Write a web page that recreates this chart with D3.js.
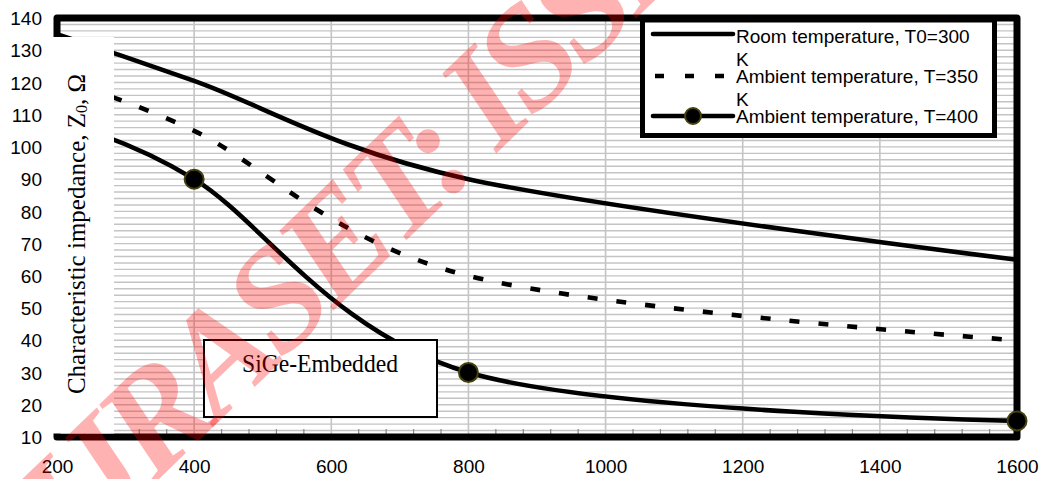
<!DOCTYPE html>
<html>
<head>
<meta charset="utf-8">
<script src="https://cdn.jsdelivr.net/npm/d3@7"></script>
<style>
  html, body { margin: 0; padding: 0; background: #fff; }
  svg { display: block; }
</style>
</head>
<body>
<svg id="chart" width="1042" height="479"></svg>
<script>
// Frequency points (MHz) and characteristic impedance (ohm) for each temperature
const freq = [200, 400, 800, 1600];
const zRoom300 = [135, 120.5, 90, 65];
const zAmb350 = [121, 105, 60, 40];
const zAmb400 = [108, 90, 30, 15];

const seriesNames = [
  ["Room temperature, T0=300", "K"],
  ["Ambient temperature, T=350", "K"],
  ["Ambient temperature, T=400", "K"]
];

const xTickValues = [200, 400, 600, 800, 1000, 1200, 1400, 1600];
const yTickValues = [10, 20, 30, 40, 50, 60, 70, 80, 90, 100, 110, 120, 130, 140];

const svg = d3.select("#chart");

const x = d3.scaleLinear().domain([200, 1600]).range([57, 1017]);
const y = d3.scaleLinear().domain([10, 140]).range([437, 18]);

const gridColor = "#c4c4c4";

// horizontal grid every 2 units
const gGrid = svg.append("g");
gGrid.selectAll("line.h")
  .data(d3.range(12, 140, 2))
  .join("line")
  .attr("x1", x(200)).attr("x2", x(1600))
  .attr("y1", d => y(d)).attr("y2", d => y(d))
  .attr("stroke", gridColor).attr("stroke-width", 1.4);

// vertical grid at major x ticks
gGrid.selectAll("line.v")
  .data(xTickValues.slice(1, -1))
  .join("line")
  .attr("x1", d => x(d)).attr("x2", d => x(d))
  .attr("y1", y(140)).attr("y2", y(10))
  .attr("stroke", gridColor).attr("stroke-width", 1.6);

// minor ticks along the bottom axis
gGrid.selectAll("line.mt")
  .data(d3.range(240, 1600, 40).filter(v => v % 200 !== 0))
  .join("line")
  .attr("x1", d => x(d)).attr("x2", d => x(d))
  .attr("y1", y(10) - 8).attr("y2", y(10))
  .attr("stroke", "#888").attr("stroke-width", 1.2);

// plot frame
svg.append("rect")
  .attr("x", x(200)).attr("y", y(140))
  .attr("width", x(1600) - x(200)).attr("height", y(10) - y(140))
  .attr("fill", "none").attr("stroke", "#000").attr("stroke-width", 7)
  .attr("stroke-linejoin", "round");

// axis tick labels
const yAxis = d3.axisLeft(y).tickValues(yTickValues).tickSize(0).tickPadding(0);
const gy = svg.append("g").attr("transform", "translate(42,0)").call(yAxis);
gy.select(".domain").remove();
gy.selectAll("text")
  .attr("font-family", "Liberation Sans, Arial, sans-serif")
  .attr("font-size", 19).attr("fill", "#000").attr("dy", "0.35em");

const xAxis = d3.axisBottom(x).tickValues(xTickValues).tickSize(0).tickPadding(0).tickFormat(d3.format("d"));
const gx = svg.append("g").attr("transform", "translate(0,459)").call(xAxis);
gx.select(".domain").remove();
gx.selectAll("text")
  .attr("font-family", "Liberation Sans, Arial, sans-serif")
  .attr("font-size", 19).attr("fill", "#000").attr("dy", "0.73em");

// series curves
const line = d3.line()
  .x((d, i) => x(freq[i]))
  .y(d => y(d))
  .curve(d3.curveCardinal.tension(0));

const gLines = svg.append("g").attr("fill", "none").attr("stroke", "#000")
  .attr("stroke-width", 4.6).attr("stroke-linecap", "butt");
gLines.append("path").attr("d", line(zRoom300));
gLines.append("path").attr("d", line(zAmb350)).attr("stroke-dasharray", "10,19");
gLines.append("path").attr("d", line(zAmb400));

// markers of the T=400 K series
svg.append("g").selectAll("circle")
  .data(zAmb400.map((v, i) => [freq[i], v]).filter(d => d[0] >= 400))
  .join("circle")
  .attr("cx", d => x(d[0])).attr("cy", d => y(d[1])).attr("r", 9.5)
  .attr("fill", "#000").attr("stroke", "#45410a").attr("stroke-width", 2);

// panel holding the y-axis title
svg.append("rect")
  .attr("x", 50).attr("y", 37).attr("width", 64).attr("height", 396.5)
  .attr("fill", "#fff");

const yTitle = svg.append("text")
  .attr("transform", "translate(85,234) rotate(-90)")
  .attr("text-anchor", "middle")
  .attr("font-family", "Liberation Serif, 'Times New Roman', serif")
  .attr("font-size", 25).attr("fill", "#000");
yTitle.append("tspan").text("Characteristic impedance, Z");
yTitle.append("tspan").attr("font-size", 16).attr("dy", 2).text("0");
yTitle.append("tspan").attr("dy", -2).text(", Ω");

// annotation box
svg.append("rect")
  .attr("x", 204).attr("y", 340).attr("width", 233).attr("height", 77)
  .attr("fill", "#fff").attr("stroke", "#000").attr("stroke-width", 2);
svg.append("text")
  .attr("x", 242).attr("y", 372)
  .attr("font-family", "Liberation Serif, 'Times New Roman', serif")
  .attr("font-size", 26).attr("textLength", 156).attr("lengthAdjust", "spacingAndGlyphs")
  .attr("fill", "#000").text("SiGe-Embedded");

// legend
const lg = svg.append("g");
const legX0 = 642.5, legY0 = 20, legW = 352, legH = 115.5;
lg.append("rect")
  .attr("x", legX0).attr("y", legY0).attr("width", legW).attr("height", legH)
  .attr("fill", "#fff");
svg.append("defs").append("clipPath").attr("id", "legClip")
  .append("rect").attr("x", legX0).attr("y", legY0).attr("width", legW).attr("height", legH);

const rowY = [34, 76, 116];
const textY = [43, 83, 123];
const lgItems = lg.append("g").attr("clip-path", "url(#legClip)");
seriesNames.forEach((lines, i) => {
  const t = lgItems.append("text")
    .attr("font-family", "Liberation Sans, Arial, sans-serif")
    .attr("font-size", 19).attr("fill", "#000");
  lines.forEach((s, j) => {
    t.append("tspan").attr("x", 736).attr("y", textY[i] + j * 23).text(s);
  });
  const sample = lgItems.append("line")
    .attr("x1", 653).attr("x2", 733).attr("y1", rowY[i]).attr("y2", rowY[i])
    .attr("stroke", "#000").attr("stroke-width", 4.6).attr("stroke-linecap", i === 1 ? "butt" : "round");
  if (i === 1) sample.attr("x1", 655).attr("stroke-dasharray", "9,21");
  if (i === 2) {
    lgItems.append("circle").attr("cx", 693).attr("cy", rowY[i]).attr("r", 8)
      .attr("fill", "#000").attr("stroke", "#45410a").attr("stroke-width", 2);
  }
});
lg.append("rect")
  .attr("x", legX0).attr("y", legY0).attr("width", legW).attr("height", legH)
  .attr("fill", "none").attr("stroke", "#000").attr("stroke-width", 5);

// publisher watermark
const wmSize = 145;
const wmAngle = -44;
const wm = svg.append("text")
  .attr("font-family", "Liberation Serif, 'Times New Roman', serif")
  .attr("font-style", "italic").attr("font-weight", "bold")
  .attr("font-size", wmSize).attr("letter-spacing", -8)
  .attr("fill", "#ff0000").attr("fill-opacity", 0.3)
  .text("IJRASET: ISSN: 2321-9653");
const colonX = wm.node().getStartPositionOfChar(7).x;
wm.attr("transform", `translate(448,200) rotate(${wmAngle}) translate(${-colonX},0)`);
</script>
</body>
</html>
